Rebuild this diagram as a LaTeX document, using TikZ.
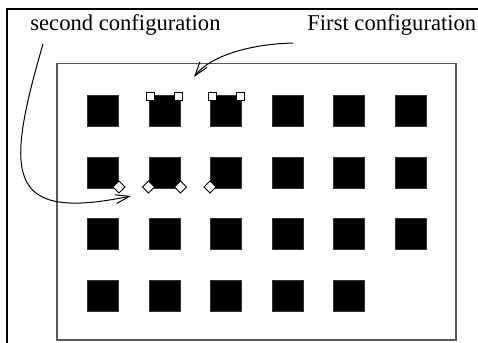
\documentclass[tikz,border=0pt]{standalone}
\usepackage{fontspec}
\setmainfont{Liberation Serif}
\usetikzlibrary{shapes.geometric,arrows.meta,calc}
\begin{document}
\begin{tikzpicture}[x=0.5pt,y=-0.5pt,
  bigsq/.style={rectangle,fill=black,draw=black!80,line width=0.3pt,inner sep=0pt,minimum size=15.7pt},
  smallsq/.style={rectangle,fill=white,draw=black,line width=0.45pt,inner sep=0pt,minimum size=4pt},
  dia/.style={diamond,fill=white,draw=black,line width=0.45pt,inner sep=0pt,minimum size=6.2pt},
  lbl/.style={inner sep=0pt,anchor=base west,font=\fontsize{11.3}{13}\selectfont},
  arr/.style={line width=0.5pt,-{Straight Barb[length=7pt,width=4.5pt,line width=0.5pt]}}]
\useasboundingbox (0,0) rectangle (478,343);
% outer frame
\draw[line width=1.25pt] (7,343) -- (7,9) -- (478,9);
% inner frame
\draw[line width=0.7pt,draw=black!65] (57,63.5) rectangle (456,340);
% squares
\foreach \r in {1,2,3}{
  \foreach \c in {1,...,6}{
    \node[bigsq] (s-\r-\c) at ({103+61.5*(\c-1)},{111+61.5*(\r-1)}) {};
  }
}
\foreach \c in {1,...,5}{
  \node[bigsq] (s-4-\c) at ({103+61.5*(\c-1)},{111+61.5*3}) {};
}
% first configuration markers
\node[smallsq] (m1) at ($(s-1-2.north west)+(2,1)$) {};
\node[smallsq] (m2) at ($(s-1-2.north east)+(-2.5,1)$) {};
\node[smallsq] (m3) at ($(s-1-3.north west)+(2,1)$) {};
\node[smallsq] (m4) at ($(s-1-3.north east)+(-2,1)$) {};
% second configuration markers
\node[dia] (d1) at ($(s-2-1.south east)+(0,-1.5)$) {};
\node[dia] (d2) at ($(s-2-2.south west)+(0,-1.5)$) {};
\node[dia] (d3) at ($(s-2-2.south east)+(0,-1.5)$) {};
\node[dia] (d4) at ($(s-2-3.south west)+(0,-1.5)$) {};
% labels
\node[lbl] (second) at (30,30.5) {second configuration};
\node[lbl] (first) at (307,30.5) {First configuration};
% arrows
\coordinate (a1s) at (293,43);
\coordinate (a1e) at (194,77);
\draw[arr] (a1s) .. controls (250,44) and (210,56) .. (a1e);
\coordinate (a2s) at (43,44);
\coordinate (a2e) at (131,196);
\draw[arr] (a2s) .. controls (5,175) and (5,222) .. (a2e);
\end{tikzpicture}
\end{document}
